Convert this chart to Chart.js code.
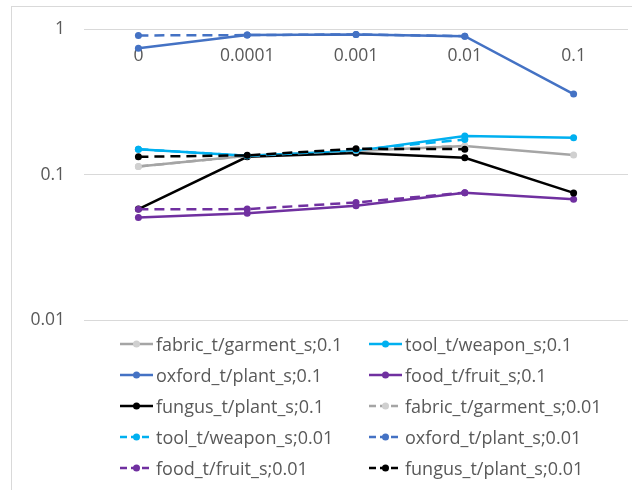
<!DOCTYPE html>
<html>
<head>
<meta charset="utf-8">
<script src="https://cdn.jsdelivr.net/npm/chart.js@4"></script>
<style>
    html, body { margin: 0; padding: 0; background: #fff; }
    #wrap { position: relative; width: 632px; height: 490px; overflow: hidden; }
    #frame { position: absolute; left: 11px; top: 6px; width: 700px; height: 600px; border: 1px solid #d9d9d9; }
    #myChart { position: absolute; left: 0; top: 0; }
    #legend {
        position: absolute; left: 120px; top: 328px;
        display: grid; grid-template-columns: 249px auto; grid-auto-rows: 31px;
        font-family: "Open Sans", sans-serif; font-size: 18px; color: #595959;
    }
    .item { display: flex; align-items: center; white-space: nowrap; }
    .item svg { margin-right: 3px; }
</style>
</head>
<body>
<div id="wrap">
    <div id="frame"></div>
    <canvas id="myChart" width="632" height="490"></canvas>
    <div id="legend"></div>
</div>
<script>
// x categories and y ticks (log axis)
const categories = ['0', '0.0001', '0.001', '0.01', '0.1'];
const yTicks = [0.01, 0.1, 1];

// ;0.1 series
const fabric01 = [0.114, 0.135, 0.146, 0.158, 0.137];
const tool01   = [0.150, 0.135, 0.146, 0.185, 0.180];
const oxford01 = [0.743, 0.915, 0.925, 0.90, 0.359];
const food01   = [0.0507, 0.0543, 0.0612, 0.0753, 0.0679];
const fungus01 = [0.058, 0.133, 0.141, 0.131, 0.075];

// ;0.01 series (no value at 0.1)
const fabric001 = [0.114, 0.135, 0.147, 0.158, null];
const tool001   = [0.150, 0.135, 0.148, 0.175, null];
const oxford001 = [0.91, 0.915, 0.925, 0.90, null];
const food001   = [0.0578, 0.058, 0.0644, 0.0753, null];
const fungus001 = [0.133, 0.136, 0.151, 0.150, null];

const labels = [
    'fabric_t/garment_s;0.1', 'tool_t/weapon_s;0.1', 'oxford_t/plant_s;0.1', 'food_t/fruit_s;0.1', 'fungus_t/plant_s;0.1',
    'fabric_t/garment_s;0.01', 'tool_t/weapon_s;0.01', 'oxford_t/plant_s;0.01', 'food_t/fruit_s;0.01', 'fungus_t/plant_s;0.01',
];
const values = [fabric01, tool01, oxford01, food01, fungus01, fabric001, tool001, oxford001, food001, fungus001];

const lineColors  = ['#a5a5a5', '#00b0f0', '#4472c4', '#7030a0', '#000000'];
const pointColors = ['#d0d0d0', '#00b0f0', '#4472c4', '#7030a0', '#000000'];
const DASH = [10, 6];

const datasets = values.map((data, i) => ({
    label: labels[i],
    data: data,
    borderColor: lineColors[i % 5],
    backgroundColor: pointColors[i % 5],
    pointBackgroundColor: pointColors[i % 5],
    pointBorderColor: pointColors[i % 5],
    pointRadius: 3.5,
    pointBorderWidth: 0,
    borderWidth: 2.5,
    borderDash: i >= 5 ? DASH : [],
    tension: 0,
    order: -i,   // later series on top, like Excel
}));

const htmlLegend = {
    id: 'htmlLegend',
    afterUpdate(chart) {
        const box = document.getElementById('legend');
        box.innerHTML = '';
        chart.data.datasets.forEach(ds => {
            const dashed = ds.borderDash.length ? 'stroke-dasharray="7 4"' : '';
            const item = document.createElement('div');
            item.className = 'item';
            item.innerHTML =
                `<svg width="33" height="10"><line x1="0" y1="5" x2="33" y2="5" stroke="${ds.borderColor}" stroke-width="2.5" ${dashed}/>` +
                `<circle cx="16.5" cy="5" r="3.5" fill="${ds.pointBackgroundColor}"/></svg><span>${ds.label}</span>`;
            box.appendChild(item);
        });
    }
};

const ctx = document.getElementById('myChart').getContext('2d');
const myChart = new Chart(ctx, {
    type: 'line',
    data: { labels: categories, datasets: datasets },
    options: {
        responsive: false,
        animation: false,
        layout: { padding: { left: 0, right: 3, top: 25, bottom: 170 } },
        plugins: { legend: { display: false }, tooltip: { enabled: false } },
        scales: {
            x: {
                position: 'top',
                offset: true,
                grid: { display: false, drawTicks: false },
                border: { display: false },
                ticks: {
                    color: '#595959', font: { family: 'Open Sans', size: 17.5 },
                    mirror: true,   // labels sit just under the 1 gridline
                    padding: 16, autoSkip: false, maxRotation: 0,
                },
                afterFit: scale => { scale.height = 0; },
            },
            y: {
                type: 'logarithmic',
                min: 0.01,
                max: 1,
                grid: { color: '#d9d9d9', lineWidth: 1, drawTicks: false },
                border: { display: false },
                ticks: {
                    color: '#595959', font: { family: 'Open Sans', size: 17.5 },
                    padding: 19,
                    callback: v => String(v),
                },
                afterBuildTicks: scale => { scale.ticks = yTicks.map(v => ({ value: v })); },
                afterFit: scale => { scale.width = 84; },
            },
        },
    },
    plugins: [htmlLegend],
});
</script>
</body>
</html>
